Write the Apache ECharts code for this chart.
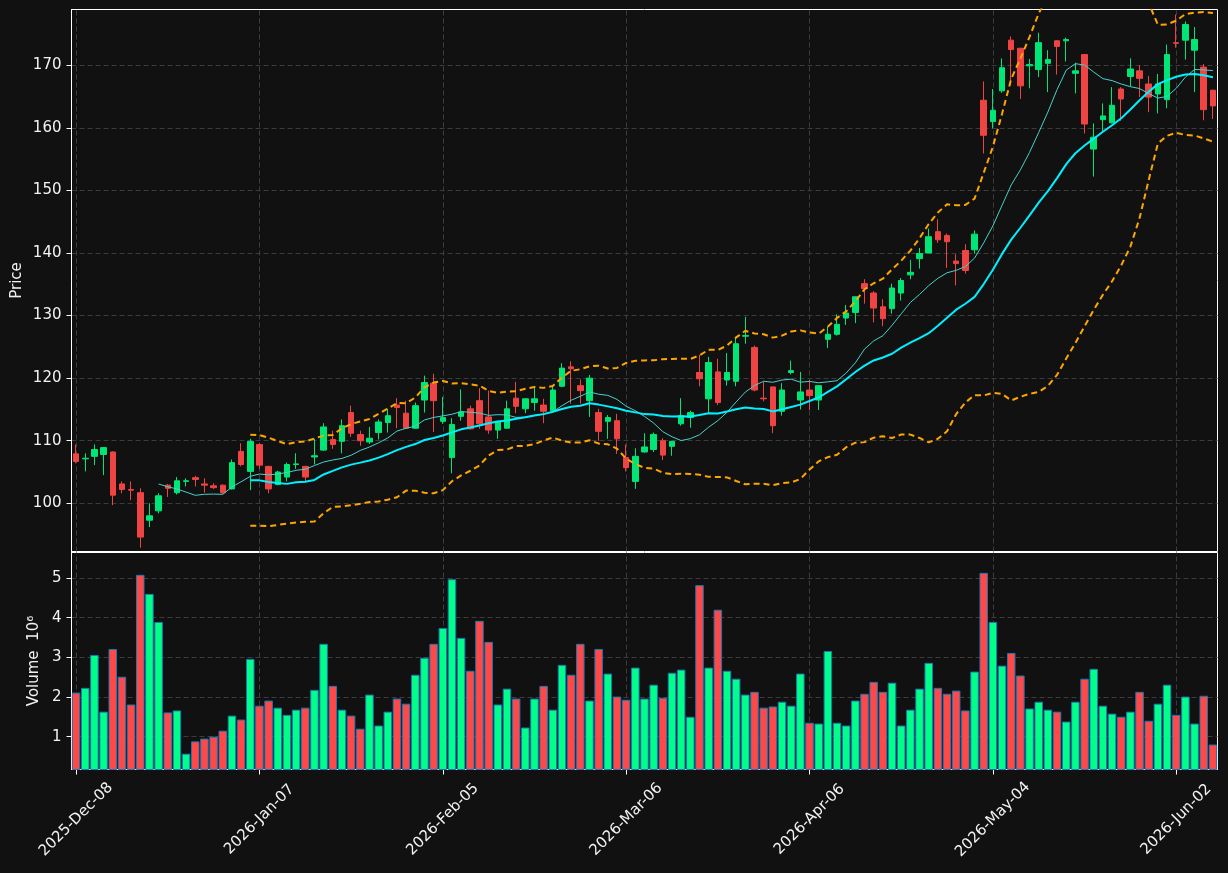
<!DOCTYPE html>
<html>
<head>
<meta charset="utf-8">
<script src="https://cdn.jsdelivr.net/npm/echarts@6/dist/echarts.min.js"></script>
<style>
  html, body { margin: 0; padding: 0; background: #111111; }
  #chart { width: 1228px; height: 873px; }
</style>
</head>
<body>
<div id="chart"></div>
<script>
// trading days (NYSE calendar), grouped by month
var tradingDays = [
  ['2025', 'Dec', [8, 9, 10, 11, 12, 15, 16, 17, 18, 19, 22, 23, 24, 26, 29, 30, 31]],
  ['2026', 'Jan', [2, 5, 6, 7, 8, 9, 12, 13, 14, 15, 16, 20, 21, 22, 23, 26, 27, 28, 29, 30]],
  ['2026', 'Feb', [2, 3, 4, 5, 6, 9, 10, 11, 12, 13, 17, 18, 19, 20, 23, 24, 25, 26, 27]],
  ['2026', 'Mar', [2, 3, 4, 5, 6, 9, 10, 11, 12, 13, 16, 17, 18, 19, 20, 23, 24, 25, 26, 27, 30, 31]],
  ['2026', 'Apr', [1, 2, 6, 7, 8, 9, 10, 13, 14, 15, 16, 17, 20, 21, 22, 23, 24, 27, 28, 29, 30]],
  ['2026', 'May', [1, 4, 5, 6, 7, 8, 11, 12, 13, 14, 15, 18, 19, 20, 21, 22, 26, 27, 28, 29]],
  ['2026', 'Jun', [1, 2, 3, 4, 5, 8]]
];

var opens = [
  107.9, 107.1, 107.5, 107.8, 108.2, 103.1, 102.2, 101.7, 97.3, 98.8,
  102.9, 101.7, 103.5, 104.1, 103.1, 102.8, 102.9, 102.3, 108.3, 105.1,
  109.4, 105.9, 103.0, 104.2, 106.2, 105.9, 107.4, 108.5, 110.2, 109.9,
  114.5, 111.0, 109.8, 111.3, 112.9, 115.7, 114.4, 112.0, 116.5, 119.2,
  113.1, 107.3, 113.9, 115.1, 116.4, 113.8, 111.7, 112.0, 116.8, 115.1,
  116.1, 115.7, 114.8, 118.7, 121.8, 118.8, 116.4, 114.5, 113.1, 113.2,
  107.3, 103.5, 108.2, 108.6, 110.0, 109.1, 112.7, 113.7, 120.9, 116.7,
  121.0, 119.7, 119.5, 126.7, 124.9, 116.8, 118.6, 114.7, 120.9, 116.5,
  118.1, 116.5, 126.2, 127.0, 129.6, 130.5, 135.1, 133.6, 131.4, 131.1,
  133.6, 136.5, 139.1, 140.0, 143.4, 142.8, 138.7, 140.4, 140.5, 164.4,
  161.0, 165.9, 174.0, 172.7, 169.9, 169.3, 170.3, 173.9, 173.9, 168.7,
  171.7, 156.6, 161.3, 160.8, 166.2, 168.2, 169.1, 167.0, 165.4, 164.5,
  173.6, 174.0, 172.4, 169.7, 166.0
];
var highs = [
  109.4, 108.0, 109.4, 109.0, 108.3, 103.5, 103.5, 102.4, 100.0, 101.6,
  103.1, 104.2, 104.0, 104.4, 104.0, 103.2, 103.0, 107.0, 109.6, 110.3,
  109.6, 106.0, 105.2, 106.5, 108.0, 106.0, 110.3, 112.8, 111.6, 113.4,
  115.6, 111.6, 112.2, 113.4, 115.1, 116.8, 116.4, 116.1, 120.4, 120.7,
  117.0, 113.6, 118.2, 115.6, 118.4, 118.0, 113.1, 116.4, 119.4, 116.8,
  118.6, 116.7, 118.7, 122.4, 122.7, 119.8, 120.5, 115.1, 114.1, 114.3,
  109.4, 108.8, 111.2, 111.3, 110.4, 109.9, 116.8, 114.8, 123.7, 123.4,
  123.1, 124.0, 126.6, 129.8, 125.2, 119.4, 118.6, 119.2, 122.8, 121.0,
  119.7, 118.8, 128.2, 130.2, 131.7, 133.0, 135.8, 133.9, 132.6, 135.1,
  136.0, 138.9, 140.8, 143.9, 145.4, 143.1, 139.8, 141.4, 143.6, 167.4,
  166.2, 171.1, 174.6, 172.8, 171.0, 175.2, 172.4, 174.0, 174.4, 170.4,
  171.7, 160.7, 163.9, 166.5, 166.5, 171.1, 170.0, 168.3, 168.6, 173.3,
  178.1, 177.0, 176.1, 170.2, 166.1
];
var lows = [
  106.4, 105.1, 106.1, 104.5, 99.7, 101.6, 100.5, 92.9, 96.2, 98.4,
  101.0, 101.4, 102.7, 102.7, 101.7, 102.3, 101.5, 102.2, 105.9, 102.1,
  105.5, 101.6, 102.9, 103.5, 105.5, 103.4, 106.2, 108.4, 108.7, 108.0,
  110.6, 109.2, 109.5, 110.2, 111.3, 112.0, 111.9, 111.9, 114.5, 111.4,
  112.7, 104.8, 113.2, 111.8, 111.9, 111.1, 110.3, 111.9, 114.4, 114.4,
  114.8, 112.8, 114.8, 118.6, 115.9, 115.9, 113.8, 110.0, 110.3, 107.9,
  105.1, 102.3, 108.1, 108.2, 106.9, 107.6, 112.4, 112.1, 118.7, 114.4,
  115.7, 118.8, 118.7, 125.5, 117.9, 116.3, 111.2, 114.0, 120.6, 115.0,
  114.9, 114.9, 124.8, 126.8, 128.5, 128.8, 131.9, 128.9, 128.3, 130.3,
  132.4, 135.8, 137.5, 140.0, 141.6, 137.6, 134.8, 136.7, 139.9, 155.9,
  159.9, 165.6, 166.8, 164.6, 166.3, 168.1, 165.7, 168.5, 170.6, 165.5,
  159.1, 152.2, 159.5, 160.7, 161.1, 166.6, 164.9, 162.5, 162.3, 163.1,
  172.8, 170.9, 165.7, 161.2, 161.4
];
var closes = [
  106.7, 107.2, 108.6, 108.9, 101.3, 102.2, 102.1, 94.6, 98.0, 101.2,
  102.4, 103.6, 103.6, 103.8, 102.9, 102.5, 101.7, 106.5, 106.2, 109.9,
  106.1, 102.3, 105.0, 106.2, 106.3, 104.2, 107.6, 112.2, 109.4, 112.4,
  111.2, 110.0, 110.4, 113.0, 114.0, 115.3, 112.0, 115.6, 119.3, 116.4,
  113.7, 112.6, 114.6, 111.9, 112.7, 111.7, 113.1, 115.1, 115.5, 116.7,
  116.7, 114.7, 118.1, 121.6, 121.5, 118.0, 120.0, 111.5, 113.7, 110.3,
  105.7, 107.5, 109.0, 111.0, 107.7, 109.9, 114.0, 114.5, 119.9, 122.5,
  116.1, 120.9, 125.5, 126.8, 118.1, 116.7, 112.4, 118.1, 121.2, 117.8,
  117.2, 118.8, 127.0, 128.6, 130.4, 133.0, 134.3, 131.2, 129.5, 134.4,
  135.6, 136.9, 139.9, 142.6, 142.1, 141.8, 138.3, 137.2, 143.0, 158.8,
  162.8, 169.6, 172.5, 166.7, 170.1, 173.6, 170.9, 173.0, 174.1, 169.1,
  160.6, 158.5, 161.9, 163.6, 164.6, 169.4, 167.9, 164.9, 167.0, 171.7,
  173.5, 176.5, 174.1, 162.9, 163.5
];
// volume in millions
var volumes = [
  2.11, 2.23, 3.06, 1.63, 3.21, 2.51, 1.81, 5.08, 4.60, 3.89,
  1.61, 1.66, 0.57, 0.88, 0.95, 1.00, 1.15, 1.53, 1.43, 2.96,
  1.78, 1.91, 1.73, 1.55, 1.68, 1.73, 2.18, 3.34, 2.28, 1.68,
  1.53, 1.20, 2.06, 1.28, 1.63, 1.96, 1.83, 2.56, 2.99, 3.34,
  3.74, 4.97, 3.49, 2.66, 3.92, 3.39, 1.81, 2.21, 1.96, 1.23,
  1.96, 2.28, 1.68, 2.81, 2.56, 3.34, 1.91, 3.21, 2.59, 2.01,
  1.93, 2.74, 1.96, 2.31, 1.98, 2.61, 2.69, 1.50, 4.82, 2.74,
  4.20, 2.66, 2.46, 2.06, 2.13, 1.73, 1.76, 1.88, 1.78, 2.59,
  1.35, 1.33, 3.16, 1.35, 1.28, 1.91, 2.08, 2.38, 2.13, 2.36,
  1.28, 1.68, 2.21, 2.86, 2.23, 2.08, 2.16, 1.66, 2.64, 5.13,
  3.89, 2.79, 3.11, 2.54, 1.71, 1.88, 1.68, 1.63, 1.38, 1.88,
  2.46, 2.71, 1.78, 1.58, 1.50, 1.63, 2.13, 1.40, 1.83, 2.31,
  1.55, 2.01, 1.33, 2.03, 0.80
];
var tickIndex = [0, 20, 40, 60, 80, 100, 120];

var dates = [];
tradingDays.forEach(function (m) {
  m[2].forEach(function (d) {
    dates.push(m[0] + '-' + m[1] + '-' + (d < 10 ? '0' + d : d));
  });
});

function movingAvg(n) {
  return closes.map(function (c, i) {
    if (i < n - 1) return null;
    var s = 0;
    for (var k = i - n + 1; k <= i; k++) s += closes[k];
    return +(s / n).toFixed(3);
  });
}
function bollinger(n, mult) {
  var mid = movingAvg(n), up = [], lo = [];
  closes.forEach(function (c, i) {
    if (mid[i] == null) { up.push(null); lo.push(null); return; }
    var v = 0;
    for (var k = i - n + 1; k <= i; k++) v += Math.pow(closes[k] - mid[i], 2);
    var sd = Math.sqrt(v / n);
    up.push(+(mid[i] + mult * sd).toFixed(3));
    lo.push(+(mid[i] - mult * sd).toFixed(3));
  });
  return [up, lo];
}

var ma10 = movingAvg(10);
var ma20 = movingAvg(20);
var bands = bollinger(20, 2);

var upColor = '#00e676', downColor = '#ee4444';
var volUp = '#00ff88', volDown = '#ff4848';
var gridColor = '#3c3c3c';
var textColor = '#f2f2f2';
var font = 'DejaVu Sans';

var vlines = {
  silent: true,
  symbol: ['none', 'none'],
  z: 1,
  label: { show: false },
  lineStyle: { color: gridColor, type: [5, 3], width: 1 },
  data: tickIndex.map(function (i) { return { xAxis: dates[i] }; })
};

var chart = echarts.init(document.getElementById('chart'));
var option = {
  backgroundColor: '#111111',
  animation: false,
  grid: [
    { left: 71.5, top: 9.5, width: 1146, height: 542, show: true, borderColor: '#ffffff', borderWidth: 1 },
    { left: 71.5, top: 552.5, width: 1146, height: 217, show: true, borderColor: '#ffffff', borderWidth: 1 }
  ],
  xAxis: [
    {
      type: 'category', gridIndex: 0, data: dates, boundaryGap: true,
      axisLine: { show: false }, axisTick: { show: false },
      axisLabel: { show: false }, splitLine: { show: false }
    },
    {
      type: 'category', gridIndex: 1, data: dates, boundaryGap: true,
      axisLine: { show: true, lineStyle: { color: '#ffffff' } },
      axisTick: { show: true, alignWithLabel: true, interval: 19, length: 5, lineStyle: { color: '#ffffff' } },
      axisLabel: {
        interval: 19, rotate: 45, align: 'center', verticalAlign: 'middle', margin: 50,
        color: textColor, fontSize: 15, fontFamily: font
      },
      splitLine: { show: false }
    }
  ],
  yAxis: [
    {
      type: 'value', gridIndex: 0, min: 92.3, max: 178.9, splitNumber: 8,
      name: 'Price', nameLocation: 'middle', nameGap: 47, nameMoveOverlap: false,
      nameTextStyle: { color: textColor, fontSize: 15, fontFamily: font },
      axisLine: { show: true, lineStyle: { color: '#ffffff' } },
      axisTick: { show: true, length: 5, lineStyle: { color: '#ffffff' } },
      axisLabel: { color: textColor, fontSize: 15, fontFamily: font, margin: 10, showMinLabel: false, showMaxLabel: false },
      splitLine: { show: true, showMinLine: false, showMaxLine: false, lineStyle: { color: gridColor, type: [5, 3] } }
    },
    {
      type: 'value', gridIndex: 1, min: 0.171, max: 5.643, splitNumber: 5,
      name: 'Volume  10⁶', nameLocation: 'middle', nameGap: 30, nameMoveOverlap: false,
      nameTextStyle: { color: textColor, fontSize: 15, fontFamily: font },
      axisLine: { show: true, lineStyle: { color: '#ffffff' } },
      axisTick: { show: true, length: 5, lineStyle: { color: '#ffffff' } },
      axisLabel: { color: textColor, fontSize: 15, fontFamily: font, margin: 10, showMinLabel: false, showMaxLabel: false },
      splitLine: { show: true, showMinLine: false, showMaxLine: false, lineStyle: { color: gridColor, type: [5, 3] } }
    }
  ],
  series: [
    {
      name: 'OHLC', type: 'candlestick', xAxisIndex: 0, yAxisIndex: 0, z: 2,
      barWidth: 6,
      itemStyle: { color: upColor, color0: downColor, borderColor: upColor, borderColor0: downColor, borderWidth: 1 },
      data: opens.map(function (o, i) { return [o, closes[i], lows[i], highs[i]]; }),
      markLine: vlines
    },
    {
      name: 'MA10', type: 'line', xAxisIndex: 0, yAxisIndex: 0, z: 3,
      data: ma10, showSymbol: false, connectNulls: false,
      lineStyle: { color: '#48d1cc', width: 1 }
    },
    {
      name: 'MA20', type: 'line', xAxisIndex: 0, yAxisIndex: 0, z: 3,
      data: ma20, showSymbol: false,
      lineStyle: { color: '#00f0ff', width: 2 }
    },
    {
      name: 'BB upper', type: 'line', xAxisIndex: 0, yAxisIndex: 0, z: 3,
      data: bands[0], showSymbol: false,
      lineStyle: { color: '#ffa500', width: 2, type: [6, 4] }
    },
    {
      name: 'BB lower', type: 'line', xAxisIndex: 0, yAxisIndex: 0, z: 3,
      data: bands[1], showSymbol: false,
      lineStyle: { color: '#ffa500', width: 2, type: [6, 4] }
    },
    {
      name: 'Volume', type: 'bar', xAxisIndex: 1, yAxisIndex: 1, z: 2,
      barWidth: 8.5,
      data: volumes.map(function (v, i) {
        var up = closes[i] >= opens[i];
        return { value: v, itemStyle: { color: up ? volUp : volDown } };
      }),
      itemStyle: { borderColor: '#1f77b4', borderWidth: 1 },
      markLine: vlines
    }
  ]
};
chart.setOption(option);
</script>
</body>
</html>
